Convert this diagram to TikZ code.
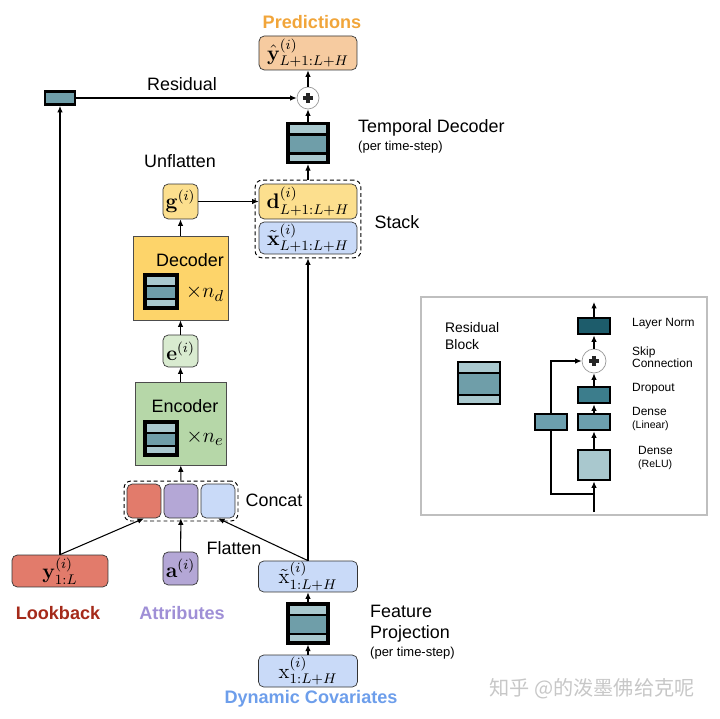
\documentclass[tikz,border=0pt]{standalone}
\usepackage[no-math]{fontspec}
\setmainfont{Liberation Sans}
\newfontfamily\cjkfont{Noto Sans CJK SC}
\usepackage{amsmath,amssymb}
\usetikzlibrary{arrows.meta,positioning,calc,fit}
\usepackage{xcolor}

\definecolor{predfill}{HTML}{F6CBA0}
\definecolor{predtext}{HTML}{F1A53A}
\definecolor{yelfill}{HTML}{FCDF8E}
\definecolor{decfill}{HTML}{FDD46A}
\definecolor{efill}{HTML}{D9EBD0}
\definecolor{encfill}{HTML}{B6D7A8}
\definecolor{redfill}{HTML}{E27B6B}
\definecolor{purfill}{HTML}{B4A7D6}
\definecolor{blufill}{HTML}{C9DAF8}
\definecolor{looktext}{HTML}{A52A1A}
\definecolor{attrtext}{HTML}{9F8FD6}
\definecolor{covtext}{HTML}{6D9EEB}
\definecolor{lteal}{HTML}{A9C8CE}
\definecolor{mteal}{HTML}{6F9EA9}
\definecolor{dteal}{HTML}{1D5C6B}
\definecolor{dropteal}{HTML}{3C7D8C}
\definecolor{linteal}{HTML}{6C9FAE}

\begin{document}
\begin{tikzpicture}[
    x=0.02cm, y=-0.02cm,
    box/.style={rectangle, draw=black!80, rounded corners=3pt, fill=#1, inner sep=0pt, font=\fontsize{12}{14}\selectfont},
    bigbox/.style={rectangle, draw=black!70, fill=#1, inner sep=0pt},
    layerbox/.style={rectangle, draw=black, line width=1.8pt, fill=lteal, inner sep=0pt,
        minimum width=0.8cm, minimum height=0.78cm,
        path picture={
            \fill[mteal] ([yshift=-0.22cm]path picture bounding box.north west) rectangle ([yshift=0.18cm]path picture bounding box.south east);
            \draw[line width=1.6pt] ([yshift=-0.22cm]path picture bounding box.north west) -- ([yshift=-0.22cm]path picture bounding box.north east);
            \draw[line width=1.6pt] ([yshift=0.18cm]path picture bounding box.south west) -- ([yshift=0.18cm]path picture bounding box.south east);
        }},
    dense/.style={rectangle, draw=black, line width=1.6pt, fill=#1, inner sep=0pt, minimum width=0.64cm, minimum height=0.32cm},
    addnode/.style={circle, draw=black!40, fill=white, minimum size=#1, inner sep=0pt,
        path picture={
            \draw[line width=2.1pt, black!85] ([xshift=-0.1cm]path picture bounding box.center) -- ([xshift=0.1cm]path picture bounding box.center);
            \draw[line width=2.1pt, black!85] ([yshift=-0.1cm]path picture bounding box.center) -- ([yshift=0.1cm]path picture bounding box.center);
        }},
    addnode/.default=0.44cm,
    group/.style={draw=black, line width=0.55pt, dash pattern=on 2.2pt off 1.6pt, rounded corners=4pt, inner sep=2pt},
    arr/.style={-{Latex[length=1.3mm,width=1.1mm]}, line width=0.6pt},
    lbl/.style={font=\fontsize{10.2}{12}\selectfont},
    sub/.style={font=\fontsize{7.4}{9}\selectfont},
    ttl/.style={font=\fontsize{10.3}{12}\selectfont\bfseries, text=#1},
    tiny/.style={font=\fontsize{6.8}{8}\selectfont, align=left, anchor=west}
]
\useasboundingbox (0,0) rectangle (720,719);

% Output side
\node[ttl=predtext] (predlbl) at (312,22) {Predictions};
\node[box=predfill, minimum width=1.96cm, minimum height=0.68cm] (pred) at (308,53) {$\hat{\mathbf{y}}^{(i)}_{L+1:L+H}$};
\node[addnode] (plus) at (308,98) {};
\node[rectangle, draw=black, line width=1.6pt, fill=mteal, minimum width=0.6cm, minimum height=0.26cm, inner sep=0pt] (res) at (60,98) {};
\node[lbl] (reslbl) at (182,84) {Residual};

% Temporal decoder
\node[layerbox] (tdec) at (308,143) {};
\node[lbl, anchor=west] (tdeclbl) at (352,128) {Temporal Decoder};
\node[sub, anchor=west] (tdecsub) at (352,147) {(per time-step)};

% Stack
\node[box=yelfill, minimum width=1.96cm, minimum height=0.7cm] (dvec) at (308,201.5) {$\mathbf{d}^{(i)}_{L+1:L+H}$};
\node[box=blufill, minimum width=1.96cm, minimum height=0.64cm] (xstack) at (308,238) {$\tilde{\mathbf{x}}^{(i)}_{L+1:L+H}$};
\node[group, fit=(dvec)(xstack)] (stack) {};
\node[lbl] (stacklbl) at (397,222) {Stack};

% Decoder
\node[box=yelfill, minimum width=0.7cm, minimum height=0.7cm] (g) at (180.5,201.5) {$\mathbf{g}^{(i)}$};
\node[lbl] (unfllbl) at (180,161) {Unflatten};
\node[bigbox=decfill, minimum width=1.9cm, minimum height=1.68cm] (dec) at (180.5,278) {};
\node[lbl] (declbl) at (190,260) {Decoder};
\node[layerbox, minimum width=0.64cm, minimum height=0.66cm] (decicon) at (161,291.5) {};
\node[font=\fontsize{12.5}{14}\selectfont] (decn) at (205,293) {$\times n_d$};

% Encoder
\node[box=efill, minimum width=0.7cm, minimum height=0.64cm] (e) at (180.5,351) {$\mathbf{e}^{(i)}$};
\node[bigbox=encfill, minimum width=1.82cm, minimum height=1.66cm] (enc) at (180.5,423.5) {};
\node[lbl] (enclbl) at (185,406) {Encoder};
\node[layerbox, minimum width=0.64cm, minimum height=0.66cm] (encicon) at (161,438.5) {};
\node[font=\fontsize{12.5}{14}\selectfont] (encn) at (205,438) {$\times n_e$};

% Concat
\node[box=redfill, minimum width=0.68cm, minimum height=0.68cm] (cred) at (144,501) {};
\node[box=purfill, minimum width=0.68cm, minimum height=0.68cm] (cpur) at (181,501) {};
\node[box=blufill, minimum width=0.68cm, minimum height=0.68cm] (cblu) at (218,501) {};
\node[group, fit=(cred)(cblu), inner sep=1.5pt] (concat) {};
\node[lbl] (concatlbl) at (274,500) {Concat};

% Inputs
\node[box=redfill, minimum width=1.92cm, minimum height=0.64cm] (look) at (60,571) {$\mathbf{y}^{(i)}_{1:L}$};
\node[box=purfill, minimum width=0.7cm, minimum height=0.66cm] (attr) at (180.5,568.5) {$\mathbf{a}^{(i)}$};
\node[lbl] (flatlbl) at (234,548) {Flatten};
\node[box=blufill, minimum width=1.98cm, minimum height=0.62cm] (xt) at (308,576.5) {$\tilde{\mathrm{x}}^{(i)}_{1:L+H}$};
\node[layerbox] (fproj) at (308,623.5) {};
\node[lbl, anchor=west, align=left] (fprojlbl) at (364,624) {Feature\\[0pt]Projection};
\node[sub, anchor=west] (fprojsub) at (364,653) {(per time-step)};
\node[box=blufill, minimum width=1.98cm, minimum height=0.64cm] (xin) at (308,671) {$\mathrm{x}^{(i)}_{1:L+H}$};

\node[ttl=looktext] (looklbl) at (58,613) {Lookback};
\node[ttl=attrtext] (attrlbl) at (182,613) {Attributes};
\node[ttl=covtext] (covlbl) at (311,699) {Dynamic Covariates};

% Arrows
\draw[arr] (res) -- (plus);
\draw[arr] (look) -- (res);
\draw[arr] (plus) -- (pred);
\draw[arr] (tdec) -- (plus);
\draw[arr] (stack) -- (tdec);
\draw[arr] (g) -- (dvec);
\draw[arr] (dec) -- (g);
\draw[arr] (e) -- (dec);
\draw[arr] (enc) -- (e);
\draw[arr] (concat) -- (enc);
\draw[arr] (look.north) -- (cred.south);
\draw[arr] (attr) -- (cpur);
\draw[arr] (xt.north) -- (cblu.south);
\draw[arr] (xt) -- (stack);
\draw[arr] (xin) -- (fproj);
\draw[arr] (fproj) -- (xt);

% Residual block panel
\draw[black!25, line width=0.8pt] (421,297) rectangle (707,515);
\node[font=\fontsize{7.9}{10}\selectfont, align=left, anchor=north west] (rblbl) at (439,316) {Residual\\Block};
\node[layerbox, line width=1.5pt, minimum width=0.84cm, minimum height=0.84cm] (rbicon) at (479,383) {};

\node[dense=dteal] (ln) at (594,326) {};
\node[addnode=0.48cm] (skip) at (594,361) {};
\node[dense=dropteal] (drop) at (594,395) {};
\node[dense=linteal] (lin) at (594,422) {};
\node[dense=lteal, minimum height=0.6cm] (relu) at (594,465) {};
\node[dense=linteal] (side) at (551,422) {};
\coordinate (inp) at (594,512);
\coordinate (split) at (594,494);
\coordinate (outp) at (594,302);

\draw[arr] (inp) -- (relu);
\draw[arr] (relu) -- (lin);
\draw[arr] (lin) -- (drop);
\draw[arr] (drop) -- (skip);
\draw[arr] (skip) -- (ln);
\draw[arr] (ln) -- (outp);
\draw[line width=0.6pt] (split) -| (side.south);
\draw[arr] (side.north) |- (skip.west);

\node[tiny] (lnlbl) at (626,324) {Layer Norm};
\node[tiny] (skiplbl) at (626,357) {Skip\\[-1pt]Connection};
\node[tiny] (droplbl) at (626,389) {Dropout};
\node[tiny] (linlbl) at (626,419) {Dense\\[-1pt]{\fontsize{6}{7}\selectfont(Linear)}};
\node[tiny] (relulbl) at (632,458) {Dense\\[-1pt]{\fontsize{6}{7}\selectfont(ReLU)}};

% watermark
\node[font=\cjkfont\fontsize{11.5}{13}\selectfont, text=black!22] (wm) at (592,689) {知乎 @的泼墨佛给克呢};
\end{tikzpicture}
\end{document}
